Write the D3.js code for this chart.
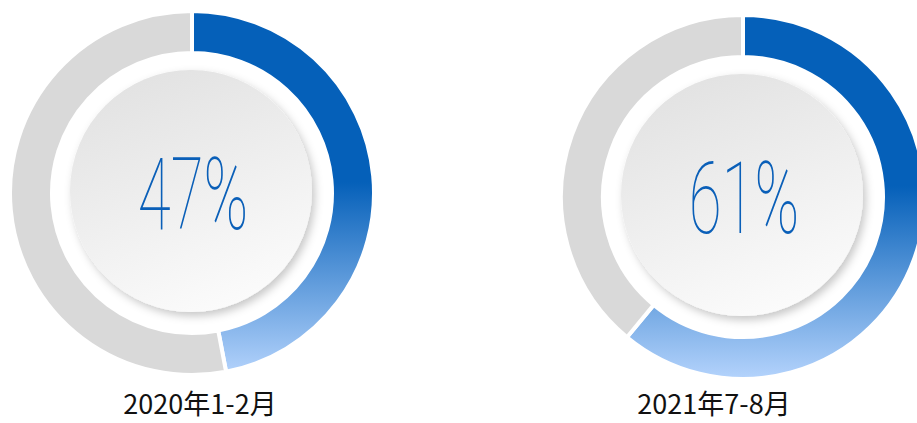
<!DOCTYPE html>
<html>
<head>
<meta charset="utf-8">
<script src="https://cdn.jsdelivr.net/npm/d3@7/dist/d3.min.js"></script>
<style>
  body { margin: 0; background: #fff; overflow: hidden; }
  svg { display: block; }
</style>
</head>
<body>
<div id="chart"></div>
<script>
// data
var periods = ["2020年1-2月", "2021年7-8月"]
var shares = [47, 61]

// layout per donut: centre, label x
var centers = [[192, 193], [743, 197]]
var labelX = [200, 714]

var width = 917, height = 423
var outerR = 182, innerR = 140, discR = 121

var svg = d3.select("#chart")
  .append("svg")
    .attr("width", width)
    .attr("height", height)

var defs = svg.append("defs")

//* shadow for the inner disc
var f = defs.append("filter")
  .attr("id", "discShadow")
  .attr("x", "-20%").attr("y", "-20%")
  .attr("width", "140%").attr("height", "140%")
f.append("feDropShadow")
  .attr("dx", 3).attr("dy", 4)
  .attr("stdDeviation", 4)
  .attr("flood-color", "#000")
  .attr("flood-opacity", 0.22)

var discGrad = defs.append("linearGradient")
  .attr("id", "discGrad")
  .attr("x1", "20%").attr("y1", "0%")
  .attr("x2", "60%").attr("y2", "100%")
discGrad.append("stop").attr("offset", "0%").attr("stop-color", "#e1e1e1")
discGrad.append("stop").attr("offset", "100%").attr("stop-color", "#fbfbfb")

// vertical gradient for the blue part (group-local coords)
var g = defs.append("linearGradient")
  .attr("id", "blueGrad")
  .attr("gradientUnits", "userSpaceOnUse")
  .attr("x1", 0).attr("y1", -outerR)
  .attr("x2", 0).attr("y2", outerR)
g.append("stop").attr("offset", "0%").attr("stop-color", "#0560b9")
g.append("stop").attr("offset", "47%").attr("stop-color", "#0560b9")
g.append("stop").attr("offset", "100%").attr("stop-color", "#b4d3fc")

var pie = d3.pie().sort(null).value(function(d){ return d })
var arc = d3.arc().innerRadius(innerR).outerRadius(outerR)

shares.forEach(function(v, i) {
    var cx = centers[i][0], cy = centers[i][1]

    var grp = svg.append("g")
      .attr("transform", "translate(" + cx + "," + cy + ")")

    grp.selectAll("path")
      .data(pie([v, 100 - v]))
      .enter()
      .append("path")
        .attr("d", arc)
        .style("fill", function(d, j){ return j == 0 ? "url(#blueGrad)" : "#d9d9d9" })
        .style("stroke", "#fff")
        .style("stroke-width", 4)

    grp.append("circle")
      .attr("r", discR)
      .attr("cx", -1).attr("cy", -2)
      .style("fill", "url(#discGrad)")
      .attr("filter", "url(#discShadow)")

    grp.append("text")
      .attr("x", 0)
      .attr("y", 0)
      .attr("transform", "translate(1,36) scale(0.6,1)")
      .attr("text-anchor", "middle")
      .attr("font-family", "Roboto, 'DejaVu Sans'")
      .attr("font-weight", 100)
      .attr("font-size", "100px")
      .attr("fill", "#0a5fb8")
      .text(v + "%")

    svg.append("text")
      .attr("x", labelX[i])
      .attr("y", 414)
      .attr("text-anchor", "middle")
      .attr("font-family", "'Noto Sans CJK SC'")
      .attr("font-size", "27px")
      .attr("fill", "#111")
      .text(periods[i])
})
</script>
</body>
</html>
